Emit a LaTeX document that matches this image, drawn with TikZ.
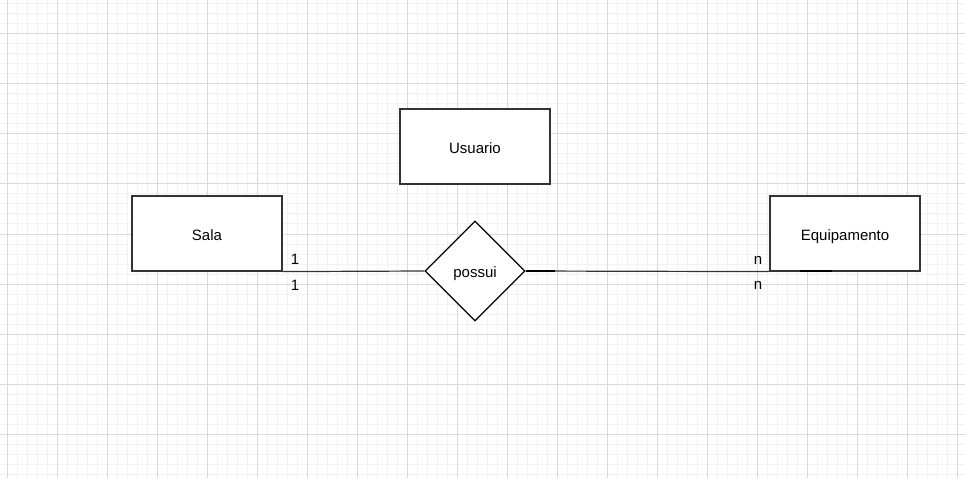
\documentclass[tikz,border=0pt]{standalone}
\usepackage{fontspec}
\setmainfont{Liberation Sans}
\usetikzlibrary{shapes.geometric}
\definecolor{minorgrid}{HTML}{F2F2F2}
\definecolor{majorgrid}{HTML}{DADADA}
\definecolor{edge}{HTML}{333333}
\tikzset{
  entity/.style={draw=edge,line width=1.2pt,fill=white,minimum width=150pt,minimum height=75pt,inner sep=0pt,text height=14pt,text depth=0pt,font=\fontsize{15}{17}\selectfont},
  relation/.style={draw=black,line width=1.2pt,fill=white,diamond,minimum width=100pt,minimum height=100pt,inner sep=0pt,text height=13pt,text depth=0pt,font=\fontsize{15}{17}\selectfont},
  card/.style={inner sep=0pt,font=\fontsize{15}{17}\selectfont},
  link/.style={draw=edge,line width=1.2pt}
}
\begin{document}
\begin{tikzpicture}[x=1pt,y=-1pt]
      \useasboundingbox[fill=white](0,0)rectangle(965,478);
      \begin{scope}
        \foreach \x in {7,17,...,965} \draw[minorgrid,line width=1pt](\x,0)--(\x,478);
        \foreach \y in {4,14,...,478} \draw[minorgrid,line width=1pt](0,\y)--(965,\y);
        \foreach \x in {7,57,...,965} \draw[majorgrid,line width=1pt](\x,0)--(\x,478);
        \foreach \y in {34,84,...,478} \draw[majorgrid,line width=1pt](0,\y)--(965,\y);
      \end{scope}
      \node[entity] (usuario) at (475,146.5) {Usuario};
      \node[entity] (sala) at (207,233.5) {Sala};
      \node[entity] (equip) at (845,233.5) {Equipamento};
      \node[relation] (possui) at (475,271) {possui};
      \draw[link](sala.south east)--(possui.west);
      \draw[link](possui.east)--(equip.south west);
      \coordinate (stubA) at (555,271);
      \coordinate (stubB) at (800,271);
      \coordinate (stubC) at (832,271);
      \draw[black,line width=2pt](possui.east)--(stubA);
      \draw[black,line width=2pt](stubB)--(stubC);
      \node[card] (c1) at (295,259) {1};
      \node[card] (c2) at (295,285) {1};
      \node[card] (c3) at (758,260) {n};
      \node[card] (c4) at (758,285) {n};
    \end{tikzpicture}
\end{document}
